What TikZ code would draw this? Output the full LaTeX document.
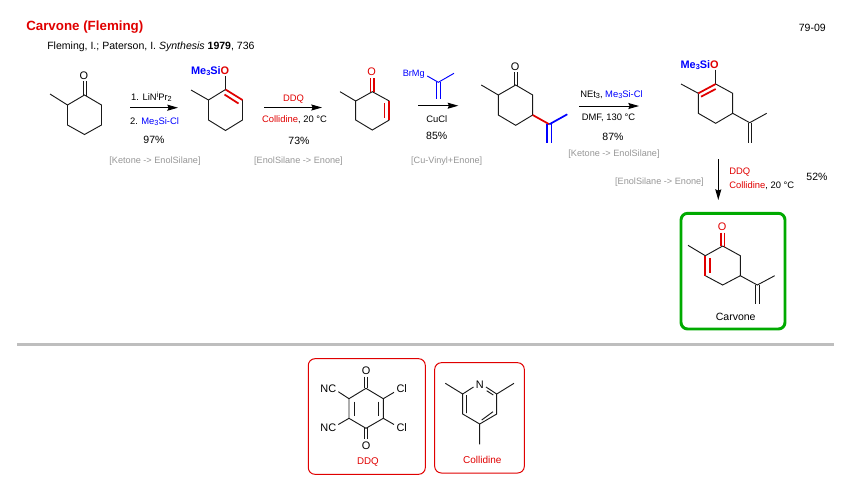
\documentclass[tikz,border=0pt]{standalone}
\usepackage{fontspec}
\setmainfont{Liberation Sans}
\usetikzlibrary{arrows.meta}
\definecolor{cred}{RGB}{224,0,0}
\definecolor{cblue}{RGB}{0,0,255}
\definecolor{cgray}{RGB}{150,150,150}
\definecolor{cgreen}{RGB}{0,170,0}
\definecolor{csep}{RGB}{190,190,190}
\newcommand{\lsub}[1]{\raisebox{-0.3ex}{\fontsize{5.5}{7}\selectfont #1}}
\newcommand{\lsup}[1]{\raisebox{0.6ex}{\fontsize{5.5}{7}\selectfont #1}}
\newcommand{\bl}[1]{\textcolor{cblue}{#1}}
\newcommand{\rd}[1]{\textcolor{cred}{#1}}
\tikzset{
  x=0.75pt,y=-0.75pt,
  txt/.style={inner sep=0pt,yshift=-0.75pt,font=\fontsize{7.9}{9}\selectfont,text=black},
  rlab/.style={inner sep=0pt,yshift=-0.6pt,font=\fontsize{7.05}{9}\selectfont,text=black},
  grayt/.style={inner sep=0pt,yshift=-0.9pt,font=\fontsize{6.85}{9}\selectfont,text=cgray},
  atom/.style={inner sep=0pt,yshift=-0.6pt,font=\fontsize{8.2}{10}\selectfont},
  silyl/.style={inner sep=0pt,yshift=-0.9pt,font=\bfseries\fontsize{8.2}{10}\selectfont},
  bond/.style={draw=black!90,line width=0.7pt},
  rbond/.style={draw=cred,line width=1.3pt},
  bbond/.style={draw=cblue,line width=1.3pt},
  thinb/.style={draw=cblue,line width=0.7pt},
  rxn/.style={draw=black,line width=0.75pt,-{Stealth[length=8pt,width=4.5pt,inset=1pt]}},
  bigbox/.style={draw=cgreen,line width=2.2pt,rounded corners=5pt},
  smallbox/.style={draw=cred,line width=0.75pt,rounded corners=5pt}
}
\begin{document}
\begin{tikzpicture}
\useasboundingbox (0,0) rectangle (854,487);
% heading
\node[inner sep=0pt,yshift=-1pt,anchor=west,text=cred,font=\bfseries\fontsize{10}{12}\selectfont] (title) at (26,26) {Carvone (Fleming)};
\node[txt,anchor=west] (ref) at (47,46) {Fleming, I.; Paterson, I. \textit{Synthesis} \textbf{1979}, 736};
\node[txt,anchor=east] (code) at (826,27) {79-09};

% molecule 1
\node[atom] (o1) at (84,75) {O};
\draw[bond] (84.5,95)--(101.5,105)--(101.5,125)--(84.5,134.5)--(67.5,125)--(67.5,105)--cycle;
\draw[bond] (67.5,105)--(50,94);
\draw[bond] (83,81)--(83,95.5) (86,81)--(86,96);

% arrow 1
\coordinate (a1s) at (130,107.7); \coordinate (a1e) at (178,107.7);
\draw[rxn] (a1s)--(a1e);
\node[rlab] (r1a) at (151.5,96) {1. LiN\lsup{i}Pr\lsub{2}};
\node[rlab] (r1b) at (154.5,121) {2. \bl{Me\lsub{3}Si-Cl}};
\node[txt] (y1) at (154,139) {97\%};
\node[grayt] (g1) at (155,160) {[Ketone -> EnolSilane]};

% molecule 2
\node[silyl,anchor=east] (s2) at (229.5,70) {\bl{Me\lsub{3}Si}\rd{O}};
\draw[bond] (242.5,100)--(242.5,120)--(225.5,130.5)--(208.5,120)--(208.5,100)--(225.5,89.5);
\draw[bond] (208.5,100)--(191,90);
\draw[bond] (225.5,76)--(225.5,89.5);
\draw[rbond] (225.5,89.5)--(242.5,100) (224.5,94.5)--(238.5,103.5);

% arrow 2
\coordinate (a2s) at (264,107.5); \coordinate (a2e) at (322,107.5);
\draw[rxn] (a2s)--(a2e);
\node[rlab,text=cred] (r2a) at (293.5,98.5) {DDQ};
\node[rlab] (r2b) at (294.5,118.7) {\rd{Collidine}, 20 °C};
\node[txt] (y2) at (299,139.5) {73\%};
\node[grayt] (g2) at (298.5,160) {[EnolSilane -> Enone]};

% molecule 3
\node[atom,text=cred] (o3) at (371.7,71) {O};
\draw[bond] (389.3,120)--(372.3,130)--(355.7,120)--(355.7,101)--(372.3,91.7)--(389.3,101);
\draw[bond] (355.7,101)--(340,91.7);
\draw[rbond] (370.5,78)--(370.5,91.7) (374,78)--(374,92);
\draw[rbond] (389.3,101)--(389.3,120) (384.5,103)--(384.5,118);

% arrow 3, Grignard
\node[anchor=east,inner sep=0pt,yshift=-0.6pt,text=cblue,font=\fontsize{6.9}{9}\selectfont] (brmg) at (425,73.5) {BrMg};
\draw[thinb] (427.3,76)--(438.3,82.3)--(454,73.3);
\draw[thinb] (436.6,82.3)--(436.6,99) (440,82.3)--(440,99);
\coordinate (a3s) at (418.3,105.7); \coordinate (a3e) at (458.3,105.7);
\draw[rxn] (a3s)--(a3e);
\node[rlab] (r3) at (436.7,118.7) {CuCl};
\node[txt] (y3) at (436.7,135.3) {85\%};
\node[grayt] (g3) at (446.7,160) {[Cu-Vinyl+Enone]};

% molecule 4
\node[atom] (o4) at (515,66) {O};
\draw[bond] (515.7,85)--(532.7,95)--(532.7,115)--(515.7,125.3)--(498.3,115)--(498.3,95)--cycle;
\draw[bond] (498.3,95)--(481.3,85);
\draw[bond] (514,72)--(514,85.5) (517.5,72)--(517.5,86);
\draw[rbond] (532.7,115)--(549.3,124.3);
\draw[bbond] (549.3,124.3)--(567.3,114.3);
\draw[bbond] (547.2,124.3)--(547.2,143.3) (551.4,124.3)--(551.4,143.3);

% arrow 4
\coordinate (a4s) at (579.3,106); \coordinate (a4e) at (639,106);
\draw[rxn] (a4s)--(a4e);
\node[rlab] (r4a) at (611.5,94) {NEt\lsub{3}, \bl{Me\lsub{3}Si-Cl}};
\node[rlab] (r4b) at (608.5,117) {DMF, 130 °C};
\node[txt] (y4) at (613,136) {87\%};
\node[grayt] (g4) at (614,153) {[Ketone -> EnolSilane]};

% molecule 5
\node[silyl,anchor=east] (s5) at (719,64) {\bl{Me\lsub{3}Si}\rd{O}};
\draw[bond] (715.7,69.5)--(715.7,84);
\draw[bond] (715.7,84)--(732.7,93.3)--(732.7,113.3)--(715.7,123.3)--(698.3,113.3)--(698.3,93.3);
\draw[bond] (698.3,93.3)--(681,84);
\draw[bond] (732.7,113.3)--(749.7,122.7)--(766.7,113.3);
\draw[bond] (748,122.7)--(748,142.7) (751.4,122.7)--(751.4,142.7);
\draw[rbond] (715.7,84)--(698.3,93.3) (715.7,89)--(701,96.7);

% arrow 5
\coordinate (a5s) at (718.3,159); \coordinate (a5e) at (718.3,200);
\draw[rxn] (a5s)--(a5e);
\node[rlab,anchor=west,text=cred] (r5a) at (729,171) {DDQ};
\node[rlab,anchor=west] (r5b) at (729,185) {\rd{Collidine}, 20 °C};
\node[txt] (y5) at (817,176) {52\%};
\node[grayt] (g5) at (659.5,181) {[EnolSilane -> Enone]};

% carvone
\draw[bigbox] (681,213.3) rectangle (785,329);
\node[atom,text=cred] (o6) at (722,226) {O};
\draw[bond] (722.7,246)--(740.3,255.7)--(740.3,275.7)--(722.7,285)--(705.3,275.7);
\draw[bond] (705.3,255.7)--(722.7,246);
\draw[bond] (705.3,255.7)--(688,245.3);
\draw[bond] (740.3,275.7)--(757.3,285)--(774.7,275.7);
\draw[bond] (755.6,285)--(755.6,304) (759,285)--(759,304);
\draw[rbond] (721,232.5)--(721,246) (724.5,232.5)--(724.5,246.5);
\draw[rbond] (705.3,255.7)--(705.3,275.7) (710.3,258.3)--(710.3,272.7);
\node[txt] (carv) at (735.7,316) {Carvone};

% separator
\draw[draw=csep,line width=2.2pt] (17,344.5)--(834,344.5);

% DDQ
\draw[smallbox] (308.3,358.7) rectangle (425.3,474.3);
\node[atom] (o7a) at (366,370) {O};
\node[atom] (o7b) at (366,445) {O};
\node[atom] (n7a) at (328.3,387.7) {NC};
\node[atom] (n7b) at (328.3,427) {NC};
\node[atom] (c7a) at (401.7,387.7) {Cl};
\node[atom] (c7b) at (401.7,427) {Cl};
\draw[bond] (366,388.3)--(383.3,398.7)--(383.3,418.3)--(366,428.3)--(349,418.3)--(349,398.7)--cycle;
\draw[bond] (354,401.5)--(354,415.5) (378.5,401.5)--(378.5,415.5);
\draw[bond] (364.3,376.5)--(364.3,388.3) (367.7,376.5)--(367.7,388.3);
\draw[bond] (364.3,428.3)--(364.3,438.5) (367.7,428.3)--(367.7,438.5);
\draw[bond] (349,398.7)--(338.3,391.7) (349,418.3)--(338.3,424.5);
\draw[bond] (383.3,398.7)--(394,392.3) (383.3,418.3)--(394,424.5);
\node[rlab,font=\fontsize{7.3}{9}\selectfont,text=cred] (l7) at (368,461) {DDQ};

% Collidine
\draw[smallbox] (434.7,362.7) rectangle (524.3,473);
\node[atom] (n8) at (479.7,383.5) {N};
\draw[bond] (473.5,387)--(462.7,394)--(462.7,414)--(479.7,424)--(496.7,414)--(496.7,394)--(486,387);
\draw[bond] (462.7,394)--(445.3,383.3) (496.7,394)--(514,383.3) (479.7,424)--(479.7,444.3);
\draw[bond] (486.7,390.7)--(493.3,395) (466.5,395)--(466.5,413) (481.7,420)--(493,411.7);
\node[rlab,font=\fontsize{7.5}{9}\selectfont,text=cred] (l8) at (482.3,459.3) {Collidine};
\end{tikzpicture}
\end{document}
